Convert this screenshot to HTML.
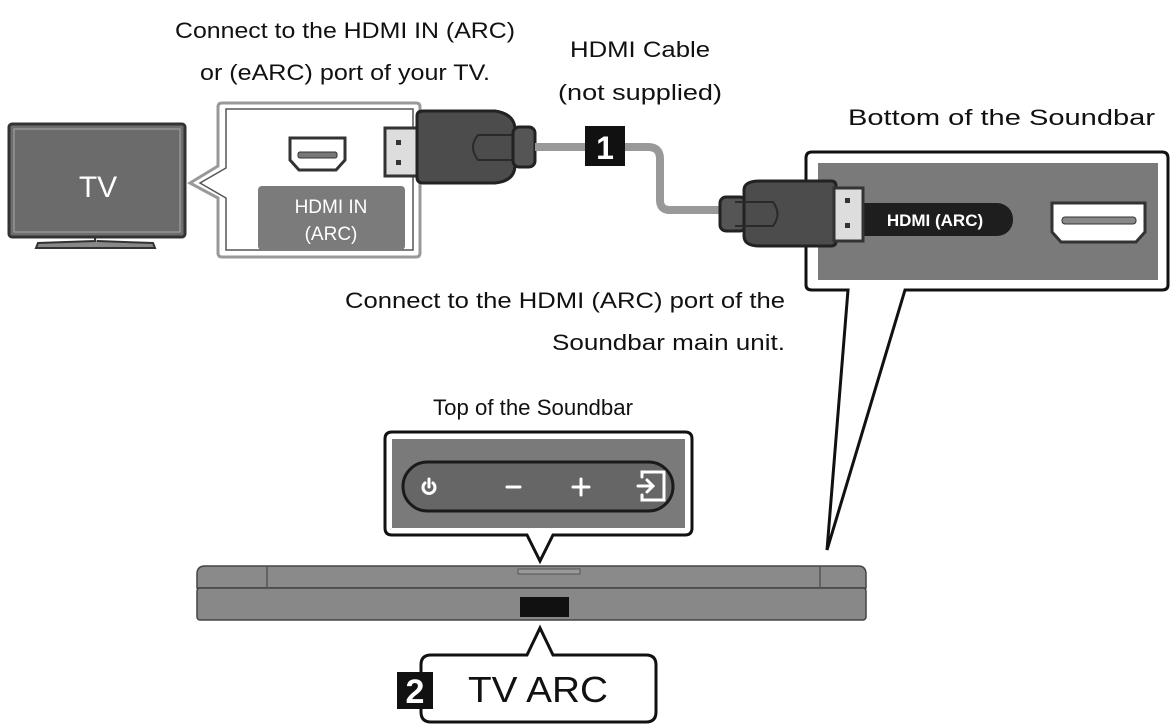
<!DOCTYPE html>
<html><head><meta charset="utf-8"><style>
html,body{margin:0;padding:0;background:#fff;}
svg{display:block;}
text{font-family:"Liberation Sans",sans-serif;}
</style></head><body>
<svg width="1173" height="726" viewBox="0 0 1173 726" xmlns="http://www.w3.org/2000/svg">
<rect width="1173" height="726" fill="#fff"/>
<g font-size="22" fill="#111">
<text x="175" y="38" textLength="340" lengthAdjust="spacingAndGlyphs">Connect to the HDMI IN (ARC)</text>
<text x="200" y="80" textLength="290" lengthAdjust="spacingAndGlyphs">or (eARC) port of your TV.</text>
<text x="570" y="57" textLength="140" lengthAdjust="spacingAndGlyphs">HDMI Cable</text>
<text x="558" y="100" textLength="164" lengthAdjust="spacingAndGlyphs">(not supplied)</text>
<text x="848" y="125" textLength="307" lengthAdjust="spacingAndGlyphs">Bottom of the Soundbar</text>
<text x="345" y="308" textLength="440" lengthAdjust="spacingAndGlyphs">Connect to the HDMI (ARC) port of the</text>
<text x="552" y="350" textLength="233" lengthAdjust="spacingAndGlyphs">Soundbar main unit.</text>
<text x="433" y="415" textLength="200" lengthAdjust="spacingAndGlyphs">Top of the Soundbar</text>
</g>
<!-- TV -->
<rect x="9" y="124" width="176" height="113" rx="3" fill="#6e6e6e" stroke="#333" stroke-width="3"/>
<rect x="14" y="129" width="166" height="103" fill="#6b6b6b" stroke="#aaa" stroke-width="1"/>
<text x="98" y="197" font-size="30" fill="#fff" text-anchor="middle">TV</text>
<path d="M95 237 L95 241 L38 243 L36 248 L155 248 L153 243 L97 241" fill="#888" stroke="#333" stroke-width="2"/>
<!-- TV callout -->
<path d="M222 103 H416 Q420 103 420 107 V253 Q420 257 416 257 H222 Q218 257 218 253 V198 L190 183 L218 166 V107 Q218 103 222 103 Z" fill="#fff" stroke="#999" stroke-width="3"/>
<path d="M226 109 H413 V250 H226 V198 L200 183 L226 168 Z" fill="none" stroke="#555" stroke-width="1.5"/>
<path d="M290 138 H345 V160 L336 170 H299 L290 160 Z" fill="#fff" stroke="#333" stroke-width="3"/>
<rect x="298" y="152" width="39" height="6" rx="2" fill="#777" stroke="#333" stroke-width="1"/>
<rect x="258" y="186" width="147" height="64" rx="4" fill="#7b7b7b"/>
<text x="331" y="213" font-size="19" fill="#fff" text-anchor="middle">HDMI IN</text>
<text x="331" y="240" font-size="19" fill="#fff" text-anchor="middle">(ARC)</text>
<!-- plug 1 -->
<rect x="385" y="128" width="32" height="48" fill="#ddd" stroke="#333" stroke-width="3"/>
<rect x="396" y="140" width="5" height="5" fill="#333"/><rect x="396" y="160" width="5" height="5" fill="#333"/>
<path d="M417 116 Q417 111 423 111 H495 Q515 114 515 130 V165 Q515 181 495 183 H423 Q417 183 417 177 Z" fill="#4c4c4c" stroke="#222" stroke-width="3"/>
<path d="M525 135 H478 Q468 147 478 160 H525" fill="none" stroke="#2a2a2a" stroke-width="2"/>
<rect x="513" y="127" width="22" height="40" rx="6" fill="#555" stroke="#222" stroke-width="3"/>
<path d="M535 147 H585" stroke="#999" stroke-width="8"/>
<rect x="585" y="126" width="40" height="40" fill="#111"/>
<text x="605" y="159" font-size="32" font-weight="bold" fill="#fff" text-anchor="middle">1</text>
<path d="M625 147 H648 Q660 147 660 159 V200 Q660 210 670 210 H722" fill="none" stroke="#999" stroke-width="8"/>
<!-- bottom callout -->
<path d="M812 152 H1162 Q1168 152 1168 158 V285 Q1168 290 1162 290 H905 L827 550 L848 290 H812 Q806 290 806 285 V158 Q806 152 812 152 Z" fill="#fff" stroke="#111" stroke-width="3"/>
<rect x="818" y="163" width="340" height="117" fill="#7a7a7a"/>
<rect x="863" y="203" width="150" height="33" rx="16" fill="#1e1e1e"/>
<rect x="863" y="203" width="16" height="33" fill="#1e1e1e"/>
<text x="935" y="226" font-size="17" font-weight="bold" fill="#fff" text-anchor="middle">HDMI (ARC)</text>
<path d="M1052 203 H1145 V232 L1136 242 H1061 L1052 232 Z" fill="#fff" stroke="#333" stroke-width="3"/>
<rect x="1062" y="217" width="74" height="7" rx="3" fill="#888" stroke="#333" stroke-width="1"/>
<!-- plug 2 (on top of callout) -->
<rect x="720" y="197" width="26" height="34" rx="6" fill="#555" stroke="#222" stroke-width="3"/>
<path d="M744 190 Q744 181 760 181 H831 Q836 181 836 186 V241 Q836 246 831 246 H760 Q744 246 744 236 Z" fill="#4c4c4c" stroke="#222" stroke-width="3"/>
<path d="M735 202 H773 Q782 214 773 226 H735" fill="none" stroke="#2a2a2a" stroke-width="2"/>
<rect x="834" y="188" width="29" height="53" fill="#ddd" stroke="#333" stroke-width="3"/>
<rect x="845" y="198" width="5" height="5" fill="#333"/><rect x="845" y="223" width="5" height="5" fill="#333"/>
<!-- top callout -->
<path d="M392 432 H685 Q692 432 692 439 V528 Q692 535 685 535 H553 L540 561 L527 535 H392 Q385 535 385 528 V439 Q385 432 392 432 Z" fill="#fff" stroke="#111" stroke-width="3"/>
<rect x="392" y="439" width="293" height="89" fill="#7a7a7a"/>
<rect x="403" y="462" width="270" height="49" rx="24.5" fill="#666" stroke="#1a1a1a" stroke-width="3"/>
<g stroke="#fff" stroke-width="3" fill="none" stroke-linecap="round">
<path d="M425 483 A6 6 0 1 0 433 483"/><path d="M429 479 V487"/>
<path d="M507 487 H520"/>
<path d="M573 487 H589 M581 479 V495"/>
<path d="M638 486 H653 M647 480 L653 486 L647 492 M642 477 V472 H664 V500 H642 V495"/>
</g>
<!-- soundbar -->
<path d="M205 566 H858 Q866 566 866 574 V588 H197 V574 Q197 566 205 566 Z" fill="#8a8a8a" stroke="#444" stroke-width="1.5"/>
<rect x="197" y="588" width="669" height="32" rx="3" fill="#888" stroke="#444" stroke-width="1.5"/>
<path d="M267 566 V588 M820 566 V588" stroke="#555" stroke-width="1.5"/>
<rect x="518" y="569" width="62" height="5" fill="#999" stroke="#555" stroke-width="1"/>
<rect x="520" y="597" width="49" height="20" fill="#111"/>
<!-- TV ARC -->
<path d="M431 655 H527 L540 628 L553 655 H646 Q656 655 656 665 V712 Q656 722 646 722 H431 Q421 722 421 712 V665 Q421 655 431 655 Z" fill="#fff" stroke="#111" stroke-width="3"/>
<text x="538" y="702" font-size="36" fill="#111" text-anchor="middle" textLength="140" lengthAdjust="spacingAndGlyphs">TV ARC</text>
<rect x="397" y="672" width="36" height="37" fill="#111"/>
<text x="415" y="703" font-size="34" font-weight="bold" fill="#fff" text-anchor="middle">2</text>
</svg>
</body></html>
